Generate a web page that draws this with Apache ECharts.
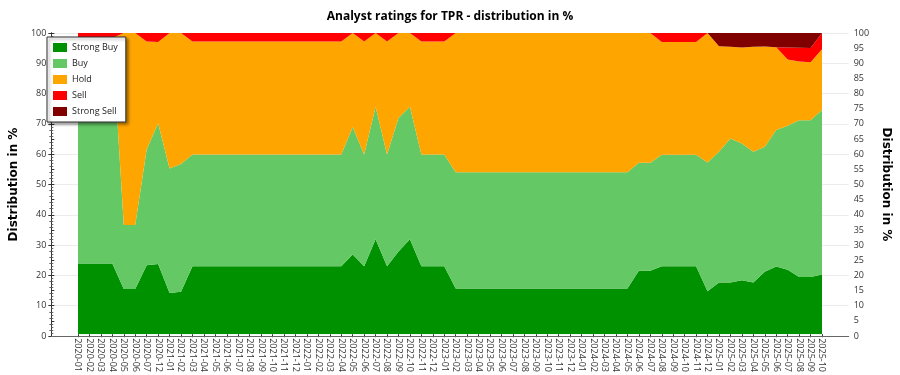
<!DOCTYPE html>
<html>
<head>
<meta charset="utf-8">
<script src="https://cdn.jsdelivr.net/npm/echarts@6/dist/echarts.min.js"></script>
<style>html,body{margin:0;padding:0;background:#fff}#c{width:900px;height:375px}</style>
</head>
<body>
<div id="c"></div>
<script>
const categories = ["2020-01","2020-02","2020-03","2020-04","2020-05","2020-06","2020-07","2020-12",
"2021-01","2021-02","2021-03","2021-04","2021-05","2021-06","2021-07","2021-08","2021-09","2021-10","2021-11","2021-12",
"2022-01","2022-02","2022-03","2022-04","2022-05","2022-06","2022-07","2022-08","2022-09","2022-10","2022-11","2022-12",
"2023-01","2023-02","2023-03","2023-04","2023-05","2023-06","2023-07","2023-08","2023-09","2023-10","2023-11","2023-12",
"2024-01","2024-02","2024-03","2024-04","2024-05","2024-06","2024-07","2024-08","2024-09","2024-10","2024-11","2024-12",
"2025-01","2025-02","2025-03","2025-04","2025-05","2025-06","2025-07","2025-08","2025-09","2025-10"];

const strongBuy = [23.5,23.5,23.5,23.5,15.0,15.0,22.9,23.3,
13.7,14.1,22.6,22.6,22.6,22.6,22.6,22.6,22.6,22.6,22.6,22.6,
22.6,22.6,22.6,22.6,26.5,22.6,31.5,22.6,27.5,31.5,22.6,22.6,
22.6,15.2,15.2,15.2,15.2,15.2,15.2,15.2,15.2,15.2,15.2,15.2,
15.2,15.2,15.2,15.2,15.2,21.1,21.1,22.6,22.6,22.6,22.6,14.3,
17.2,17.2,17.9,17.2,20.7,22.5,21.4,19.0,19.0,19.8];

const buy = [74.8,74.8,74.8,74.8,21.3,21.3,38.4,46.7,
41.3,42.4,37.1,37.1,37.1,37.1,37.1,37.1,37.1,37.1,37.1,37.1,
37.1,37.1,37.1,37.1,42.3,37.1,44.0,37.1,44.3,44.0,37.1,37.1,
37.1,38.6,38.6,38.6,38.6,38.6,38.6,38.6,38.6,38.6,38.6,38.6,
38.6,38.6,38.6,38.6,38.6,35.8,35.8,37.0,37.0,37.0,37.0,42.7,
43.4,47.8,45.4,43.4,41.5,45.3,47.8,52.0,52.0,54.6];

const hold = [0,0,0,0,63.7,63.7,35.9,27.0,
45.0,43.5,37.5,37.5,37.5,37.5,37.5,37.5,37.5,37.5,37.5,37.5,
37.5,37.5,37.5,37.5,31.2,37.5,24.5,37.5,28.2,24.5,37.5,37.5,
37.5,46.2,46.2,46.2,46.2,46.2,46.2,46.2,46.2,46.2,46.2,46.2,
46.2,46.2,46.2,46.2,46.2,43.1,43.1,37.4,37.4,37.4,37.4,43.0,
35.0,30.4,31.9,34.8,33.3,27.5,22.0,19.5,19.3,20.2];

const sell = [1.7,1.7,1.7,1.7,0,0,2.8,3.0,
0,0,2.8,2.8,2.8,2.8,2.8,2.8,2.8,2.8,2.8,2.8,
2.8,2.8,2.8,2.8,0,2.8,0,2.8,0,0,2.8,2.8,
2.8,0,0,0,0,0,0,0,0,0,0,0,
0,0,0,0,0,0,0,3.0,3.0,3.0,3.0,0,
0,0,0,0,0,0,4.0,4.6,4.7,5.4];

const strongSell = [0,0,0,0,0,0,0,0,
0,0,0,0,0,0,0,0,0,0,0,0,
0,0,0,0,0,0,0,0,0,0,0,0,
0,0,0,0,0,0,0,0,0,0,0,0,
0,0,0,0,0,0,0,0,0,0,0,0,
4.4,4.6,4.8,4.6,4.5,4.7,4.8,4.9,5.0,0];

const seriesNames = ["Strong Buy","Buy","Hold","Sell","Strong Sell"];
const seriesData = [strongBuy, buy, hold, sell, strongSell];
const colors = ["#009100","#64c864","#ffa500","#ff0000","#800000"];

const FONT = "'Open Sans', 'Noto Sans', sans-serif";
const chart = echarts.init(document.getElementById('c'), null, {renderer: 'canvas'});

const series = seriesNames.map((n, k) => ({
  name: n, type: 'line', stack: 'total', xAxisIndex: 1, yAxisIndex: 2,
  data: seriesData[k], symbol: 'none', showSymbol: false, smooth: false,
  lineStyle: {width: 0, color: colors[k]}, itemStyle: {color: colors[k]},
  areaStyle: {color: colors[k], opacity: 1}, z: 2
}));

chart.setOption({
  animation: false,
  color: colors,
  title: {
    text: 'Analyst ratings for TPR - distribution in %', left: 'center', top: 6,
    textStyle: {fontSize: 12, fontWeight: 'bold', color: '#000', fontFamily: FONT}
  },
  legend: {
    data: seriesNames, orient: 'vertical', left: 47, top: 37,
    itemWidth: 14, itemHeight: 9, itemGap: 7, icon: 'rect',
    padding: [6, 8, 6, 6], backgroundColor: '#fff', borderColor: '#333', borderWidth: 1,
    shadowBlur: 3, shadowColor: 'rgba(0,0,0,0.4)', shadowOffsetX: 2, shadowOffsetY: 2,
    textStyle: {fontSize: 9, color: '#222', fontFamily: FONT}, selectedMode: false
  },
  grid: [
    {left: 42, right: 38, top: 33, bottom: 39, show: false},
    {left: 78, right: 78, top: 33, bottom: 39, show: false}
  ],
  xAxis: [
    {type: 'value', gridIndex: 0, min: 0, max: 1, position: 'bottom',
     axisLine: {show: true, lineStyle: {color: '#222', width: 1}}, axisTick: {show: false},
     axisLabel: {show: false}, splitLine: {show: false}, z: 10},
    {type: 'category', gridIndex: 1, data: categories, boundaryGap: false,
     axisLine: {show: false}, axisTick: {show: true, length: 3, alignWithLabel: true, interval: 0, lineStyle: {color: '#333'}},
     axisLabel: {interval: 0, rotate: -90, fontSize: 9, color: '#333', margin: 4, fontFamily: FONT},
     splitLine: {show: false}},
    {type: 'value', gridIndex: 0, min: 0, max: 1, position: 'top',
     axisLine: {show: true, lineStyle: {color: '#666', width: 1}}, axisTick: {show: false},
     axisLabel: {show: false}, splitLine: {show: false}, z: 10}
  ],
  yAxis: [
    {type: 'value', gridIndex: 0, position: 'left', min: 0, max: 100, interval: 10,
     name: 'Distribution in %', nameLocation: 'middle', nameGap: 28, nameRotate: 90,
     nameTextStyle: {fontSize: 12, fontWeight: 'bold', color: '#000', fontFamily: "'DejaVu Sans', sans-serif"},
     axisLine: {show: true, lineStyle: {color: '#333'}}, axisTick: {show: true, length: 3, lineStyle: {color: '#333'}},
     minorTick: {show: true, splitNumber: 5, length: 2, lineStyle: {color: '#666'}},
     axisLabel: {fontSize: 9, color: '#333', margin: 5, fontFamily: FONT},
     splitLine: {show: true, lineStyle: {color: '#ececec', width: 1}}},
    {type: 'value', gridIndex: 0, position: 'right', min: 0, max: 100, interval: 5,
     name: 'Distribution in %', nameLocation: 'middle', nameGap: 26, nameRotate: -90,
     nameTextStyle: {fontSize: 12, fontWeight: 'bold', color: '#000', fontFamily: "'DejaVu Sans', sans-serif"},
     axisLine: {show: true, lineStyle: {color: '#333'}}, axisTick: {show: true, length: 3, lineStyle: {color: '#333'}},
     minorTick: {show: true, splitNumber: 5, length: 2, lineStyle: {color: '#666'}},
     axisLabel: {fontSize: 9, color: '#333', margin: 5, fontFamily: FONT},
     splitLine: {show: false}},
    {type: 'value', gridIndex: 1, min: 0, max: 100, show: false, splitLine: {show: false}}
  ],
  series: series
});
</script>
</body>
</html>
